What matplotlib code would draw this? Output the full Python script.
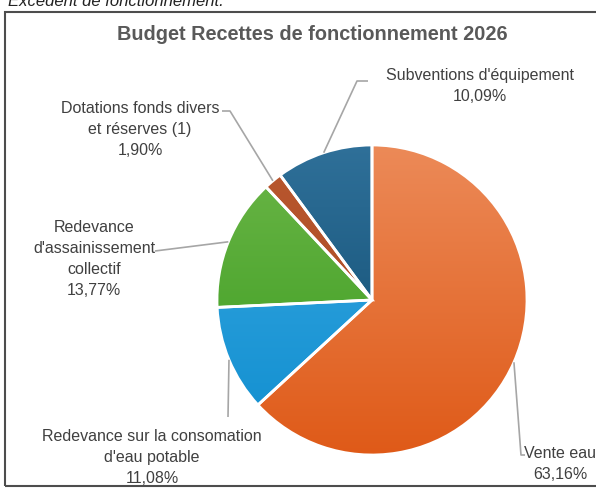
import matplotlib
matplotlib.use("Agg")
import matplotlib.pyplot as plt
import numpy as np
from matplotlib.patches import Rectangle

plt.rcParams['font.family'] = ['Liberation Sans', 'DejaVu Sans']

# Donnees du graphique
categories = ["Vente eau",
              "Redevance sur la consomation\nd'eau potable",
              "Redevance\nd'assainissement\ncollectif",
              "Dotations fonds divers\net réserves (1)",
              "Subventions d'équipement"]
valeurs = [63.16, 11.08, 13.77, 1.90, 10.09]
pourcent = ["63,16%", "11,08%", "13,77%", "1,90%", "10,09%"]

# couleurs (haut, bas) pour le degrade de chaque part
couleurs = [("#ec8a58", "#df5a18"),
            ("#3aa8e2", "#0f8ecf"),
            ("#6cb648", "#379a1c"),
            ("#b9582f", "#a8441e"),
            ("#2f7099", "#0c486c")]

W, H = 596, 489
fig = plt.figure(figsize=(W / 100, H / 100), dpi=100)
ax = fig.add_axes([0, 0, 1, 1])

def Y(y):
    # coordonnees image -> coordonnees axes
    return H - y

cx, cy, r = 372, Y(301), 155

wedges, _ = ax.pie(valeurs, center=(cx, cy), radius=r, startangle=90,
                   counterclock=False, colors=[c[1] for c in couleurs],
                   wedgeprops=dict(edgecolor='white', linewidth=2))

# degrade vertical dans chaque part
grad = np.linspace(0, 1, 256).reshape(-1, 1)
for w, (c_haut, c_bas) in zip(wedges, couleurs):
    ch = np.array(matplotlib.colors.to_rgb(c_haut))
    cb = np.array(matplotlib.colors.to_rgb(c_bas))
    img = ch[None, None, :] * (1 - grad[:, :, None]) + cb[None, None, :] * grad[:, :, None]
    im = ax.imshow(img, extent=(cx - r, cx + r, cy - r, cy + r), origin='upper',
                   zorder=w.get_zorder() + 0.1, interpolation='bilinear')
    im.set_clip_path(w)
# bords blancs par-dessus
for w in wedges:
    ax.add_patch(matplotlib.patches.Wedge(w.center, w.r, w.theta1, w.theta2,
                                          facecolor='none', edgecolor='white',
                                          linewidth=2, zorder=5))

# etiquettes et lignes de rappel
lab_pos = [(560, 464), (152, 458), (94, 259), (140, 130), (480, 86)]
coudes = [[(521, 456), (525, 456)],
          [(228, 418)],
          [(155, 252)],
          [(230, 112), (222, 112)],
          [(357, 82), (368, 82)]]
gris_txt = "#404040"
for w, cat, p, (lx, ly), cd in zip(wedges, categories, pourcent, lab_pos, coudes):
    ang = np.deg2rad((w.theta1 + w.theta2) / 2)
    x0 = cx + r * np.cos(ang)
    y0 = cy + r * np.sin(ang)
    xs = [x0] + [c[0] for c in cd]
    ys = [y0] + [Y(c[1]) for c in cd]
    ax.plot(xs, ys, color="#a6a6a6", lw=1.2, zorder=6, solid_capstyle='butt')
    ax.text(lx, Y(ly), cat + "\n" + p, ha='center', va='center', fontsize=11.5,
            color=gris_txt, linespacing=1.5, zorder=7)

ax.text(312, Y(35), "Budget Recettes de fonctionnement 2026", ha='center', va='center',
        fontsize=14.3, fontweight='bold', color="#595959")

# texte coupe en haut de page
ax.text(8, Y(6), "Excédent de fonctionnement.", ha='left', va='baseline',
        fontsize=12, style='italic', color="#222222")

# cadre
ax.add_patch(Rectangle((5, Y(487)), 600, 474, facecolor='none', edgecolor="#4d4d4d",
                       lw=1.5, zorder=8))

ax.set_xlim(0, W)
ax.set_ylim(0, H)
ax.axis('off')

plt.savefig("out.png", dpi=100)
